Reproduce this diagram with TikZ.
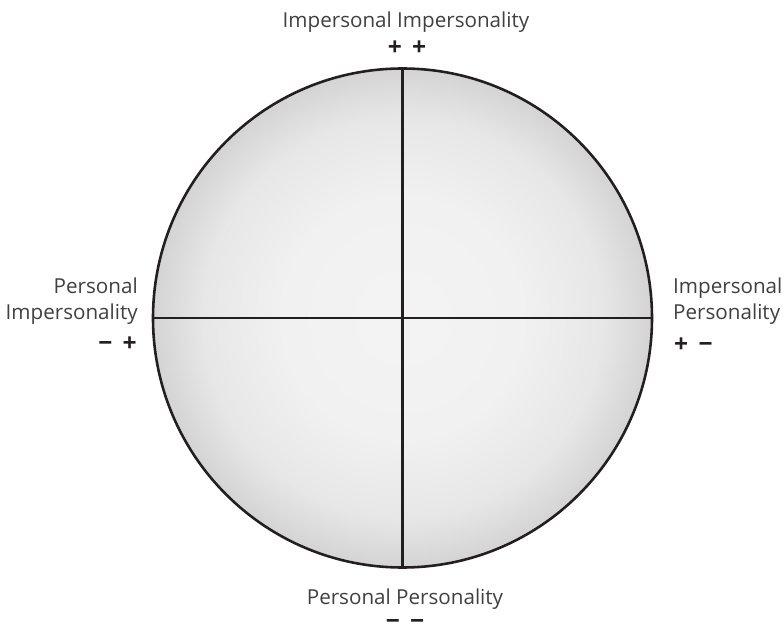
\documentclass[tikz,border=0pt]{standalone}
\usepackage{fontspec}
\setmainfont{Open Sans}
\usepackage{tikz}
\usetikzlibrary{positioning}

\definecolor{inkblack}{HTML}{231F20}
\definecolor{labelgray}{HTML}{404040}
\pgfdeclareradialshading{disc}{\pgfpoint{0bp}{0bp}}{%
  color(0bp)=(gray!9); color(12bp)=(gray!11); color(20bp)=(gray!19);
  color(25bp)=(gray!34); color(50bp)=(gray!34)}
\newcommand{\signgap}{\hspace{0.42em}}

\begin{document}
\begin{tikzpicture}[
    x=0.03cm, y=-0.03cm,
    font=\fontsize{17.6}{23}\selectfont,
    axisline/.style={draw=inkblack, line width=2.2pt},
    lbl/.style={text=labelgray, inner sep=0pt, align=center},
    sign/.style={inner sep=0pt, font=\fontsize{21}{23}\selectfont\bfseries, text=inkblack}
]
\useasboundingbox (0,0) rectangle (784,628);

% ---- Circle ----
\coordinate (c) at (402.5,318);
\path[shading=disc] (c) circle[radius=249.5];
\draw[axisline] (c) circle[radius=249.5];

\coordinate (top) at (402.5,68.5);
\coordinate (bot) at (402.5,567.5);
\coordinate (lft) at (153,318);
\coordinate (rgt) at (652,318);
\draw[axisline] (top) -- (bot);
\draw[axisline] (lft) -- (rgt);

% ---- Top ----
\node[lbl, anchor=base] (tl) at (406,28) {Impersonal Impersonality};
\node[sign, anchor=mid] (ts) at (407,52) {+\signgap+};

% ---- Left ----
\node[lbl, anchor=base east, align=right] (ll) at (138,320) {Personal\\Impersonality};
\node[sign, anchor=mid east] (ls) at (137,348) {−\signgap+};

% ---- Right ----
\node[lbl, anchor=base west, align=left] (rl) at (673,320) {Impersonal\\Personality};
\node[sign, anchor=mid west] (rs) at (674,349) {+\signgap−};

% ---- Bottom ----
\node[lbl, anchor=base] (bl) at (405,604) {Personal Personality};
\node[sign, anchor=mid] (bs) at (405,626) {−\signgap−};

\end{tikzpicture}
\end{document}
